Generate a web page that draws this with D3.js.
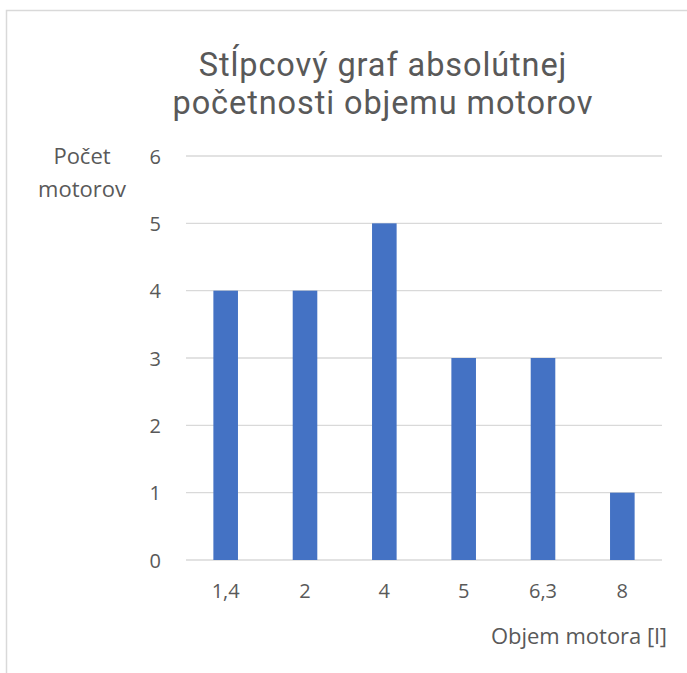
<!DOCTYPE html>
<html><head><meta charset="utf-8">
<script src="https://cdn.jsdelivr.net/npm/d3@7"></script>
<style>body{margin:0;background:#fff}svg{display:block}</style>
</head><body>
<script>
const categories = ["1,4", "2", "4", "5", "6,3", "8"];
const values = [4, 4, 5, 3, 3, 1];
const yTicks = [0, 1, 2, 3, 4, 5, 6];
const titleLines = ["Stĺpcový graf absolútnej", "početnosti objemu motorov"];
const yTitleLines = ["Počet", "motorov"];
const xTitle = "Objem motora [l]";

const W = 687, H = 673;
const font = "'Open Sans', sans-serif";
const titleFont = "Roboto, 'Open Sans', sans-serif";
const svg = d3.select("body").append("svg").attr("width", W).attr("height", H);
svg.append("rect").attr("x", 6.5).attr("y", 10.5).attr("width", W + 10).attr("height", H + 10)
  .attr("fill", "#fff").attr("stroke", "#d9d9d9").attr("stroke-width", 1.5);

const x = d3.scaleBand().domain(categories).range([186, 662]).paddingInner(0.69).paddingOuter(0.345);
const y = d3.scaleLinear().domain([0, 6]).range([560, 156]);

const g = svg.append("g");
g.selectAll("line.grid").data(yTicks).join("line")
  .attr("x1", 186).attr("x2", 662).attr("y1", d => y(d)).attr("y2", d => y(d))
  .attr("stroke", "#d9d9d9").attr("stroke-width", 1.3);

g.selectAll("rect.bar").data(values).join("rect")
  .attr("x", (d, i) => x(categories[i])).attr("width", x.bandwidth())
  .attr("y", d => y(d)).attr("height", d => y(0) - y(d)).attr("fill", "#4472C4");

const yAxis = d3.axisLeft(y).tickValues(yTicks).tickSize(0).tickPadding(0).tickFormat(d3.format("d"));
const ya = svg.append("g").attr("transform", "translate(161,0)").call(yAxis);
ya.select(".domain").remove();
ya.selectAll("text").attr("font-family", font).attr("font-size", 20).attr("fill", "#595959").attr("dy", "0.36em");

const xAxis = d3.axisBottom(x).tickSize(0).tickPadding(0);
const xa = svg.append("g").attr("transform", "translate(0,598)").call(xAxis);
xa.select(".domain").remove();
xa.selectAll("text").attr("font-family", font).attr("font-size", 20).attr("fill", "#595959").attr("dy", "0");

svg.selectAll("text.title").data(titleLines).join("text").attr("class", "title")
  .attr("x", 383).attr("y", (d, i) => 75.5 + i * 38.5).attr("text-anchor", "middle")
  .attr("font-family", titleFont).attr("font-size", 32.5).attr("letter-spacing", 0.9)
  .attr("fill", "#595959").text(d => d);

const yTitle = svg.append("text").attr("text-anchor", "middle")
  .attr("font-family", font).attr("font-size", 22).attr("fill", "#595959");
yTitle.selectAll("tspan").data(yTitleLines).join("tspan")
  .attr("x", 82).attr("y", (d, i) => 164 + i * 33).text(d => d);

svg.append("text").attr("x", 667).attr("y", 644).attr("text-anchor", "end")
  .attr("font-family", font).attr("font-size", 22).attr("fill", "#595959").text(xTitle);
</script>
</body></html>
